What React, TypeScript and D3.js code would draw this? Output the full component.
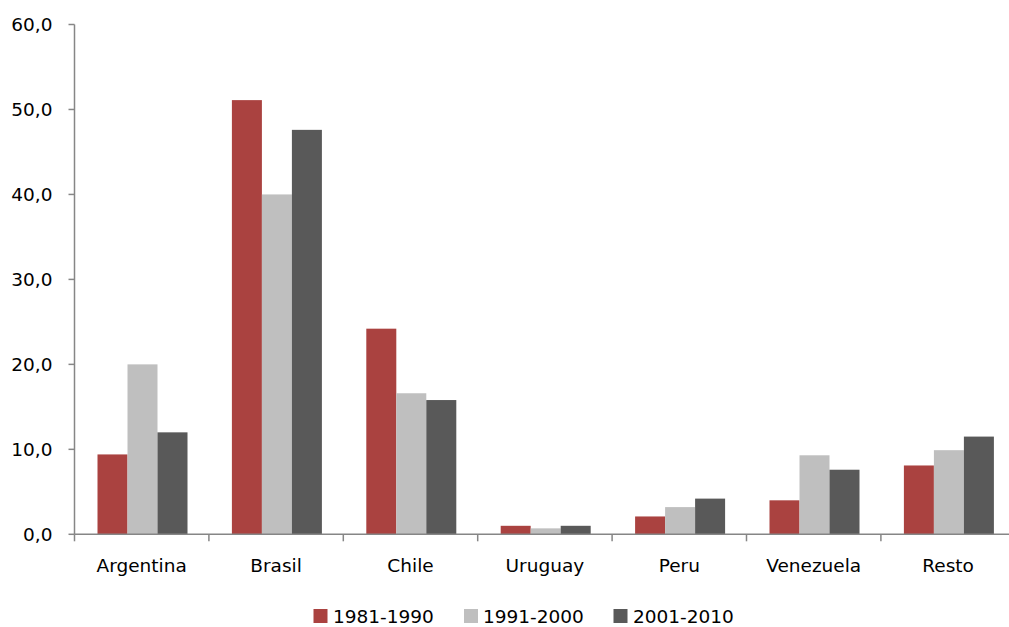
import React from "react";
import * as d3 from "d3";

const categories = ["Argentina", "Brasil", "Chile", "Uruguay", "Peru", "Venezuela", "Resto"];
const seriesNames = ["1981-1990", "1991-2000", "2001-2010"];
const values1981 = [9.4, 51.1, 24.2, 1.0, 2.1, 4.0, 8.1];
const values1991 = [20.0, 40.0, 16.6, 0.7, 3.2, 9.3, 9.9];
const values2001 = [12.0, 47.6, 15.8, 1.0, 4.2, 7.6, 11.5];
const seriesColors = ["#AA4240", "#BFBFBF", "#595959"];
const yTicks = [0, 10, 20, 30, 40, 50, 60];

const W = 1009;
const H = 627;
const FONT = "'DejaVu Sans', sans-serif";
const AXIS = "#868686";

export default function App() {
  const seriesValues = [values1981, values1991, values2001];
  const left = 74.5;
  const step = 134.4;
  const x = d3
    .scaleBand<string>()
    .domain(categories)
    .range([left, left + step * categories.length])
    .padding(0);
  const inner = d3
    .scaleBand<string>()
    .domain(seriesNames)
    .range([23, 113])
    .padding(0);
  const y = d3.scaleLinear().domain([0, 60]).range([534.3, 24.5]);
  const fmt = (v: number) => d3.format(".1f")(v).replace(".", ",");

  const legendItems = [
    { sq: 313.5, tx: 333 },
    { sq: 464, tx: 483 },
    { sq: 613.5, tx: 633 },
  ];

  return (
    <svg
      width={W}
      height={H}
      style={{ position: "absolute", left: 0, top: 0, background: "#fff" }}
      fontFamily={FONT}
    >
      {/* bars */}
      {categories.map((c, i) => (
        <g key={c} transform={`translate(${x(c)},0)`}>
          {seriesNames.map((s, j) => {
            const v = seriesValues[j][i];
            return (
              <rect
                key={s}
                x={inner(s)}
                y={y(v)}
                width={inner.bandwidth()}
                height={y(0) - y(v)}
                fill={seriesColors[j]}
              />
            );
          })}
        </g>
      ))}

      {/* y axis */}
      <line x1={left} x2={left} y1={y(60)} y2={y(0)} stroke={AXIS} strokeWidth={1.5} />
      {yTicks.map((t) => (
        <g key={t}>
          <line x1={left - 6} x2={left} y1={y(t)} y2={y(t)} stroke={AXIS} strokeWidth={1.5} />
          <text
            x={52.5}
            y={y(t)}
            dy="0.36em"
            textAnchor="end"
            fontSize={18.5}
            fill="#000"
          >
            {fmt(t)}
          </text>
        </g>
      ))}

      {/* x axis */}
      <line x1={left} x2={W} y1={y(0)} y2={y(0)} stroke={AXIS} strokeWidth={1.5} />
      {categories.map((c) => (
        <line
          key={"t" + c}
          x1={x(c)!}
          x2={x(c)!}
          y1={y(0)}
          y2={y(0) + 7}
          stroke={AXIS}
          strokeWidth={1.5}
        />
      ))}
      {categories.map((c) => (
        <text
          key={"l" + c}
          x={x(c)! + x.bandwidth() / 2}
          y={571.5}
          textAnchor="middle"
          fontSize={18.5}
          fill="#000"
        >
          {c}
        </text>
      ))}

      {/* legend */}
      {seriesNames.map((s, j) => (
        <g key={"lg" + s}>
          <rect x={legendItems[j].sq} y={609} width={14} height={14} fill={seriesColors[j]} />
          <text x={legendItems[j].tx} y={622.5} fontSize={18.5} fill="#000">
            {s}
          </text>
        </g>
      ))}
    </svg>
  );
}
